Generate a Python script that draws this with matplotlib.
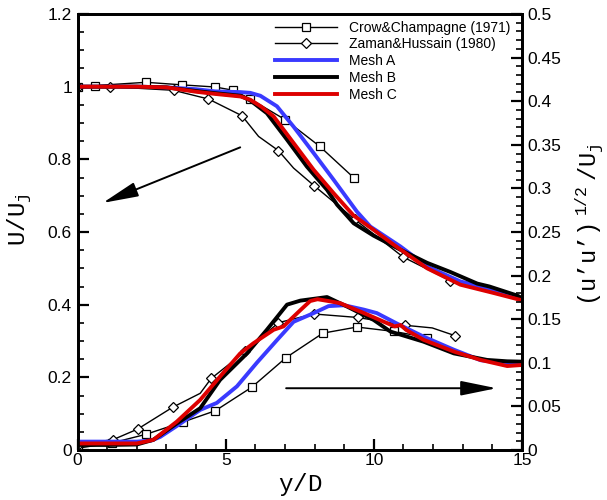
import matplotlib
matplotlib.use("Agg")
import matplotlib.pyplot as plt
from matplotlib.lines import Line2D
from matplotlib.ticker import MultipleLocator, FuncFormatter

# ---------------- data ----------------
# Mean velocity U/Uj (left axis)
crow_u_x = [0, 0.59, 2.31, 3.52, 4.65, 5.26, 5.83, 7.01, 8.17, 9.34]
crow_u_y = [1.0, 1.003, 1.012, 1.005, 0.999, 0.99, 0.966, 0.909, 0.836, 0.748]

zaman_u_x = [0, 1.08, 3.24, 4.42, 5.55, 6.11, 6.78, 7.29, 7.99, 9.35, 10.99, 12.58]
zaman_u_y = [1.0, 1.0, 0.99, 0.966, 0.92, 0.863, 0.824, 0.776, 0.727, 0.635, 0.531, 0.466]
zaman_u_marks = [0, 1, 2, 3, 4, 6, 8, 9, 10, 11]

meshA_u_x = [0, 1, 2, 3, 4, 4.65, 5.5, 5.83, 6.17, 6.73, 7.29, 7.97, 8.64, 9.43, 9.88, 10.9, 11.8, 12.92, 14.05, 14.84, 15]
meshA_u_y = [1.0, 1.0, 1.0, 0.998, 0.993, 0.987, 0.985, 0.983, 0.975, 0.946, 0.89, 0.817, 0.744, 0.656, 0.615, 0.56, 0.505, 0.464, 0.441, 0.422, 0.415]

meshB_u_x = [0, 1, 2, 3, 4, 4.65, 5.5, 5.83, 6.39, 7.07, 7.74, 8.42, 8.76, 9.09, 9.32, 9.99, 10.9, 11.8, 12.58, 13.49, 13.9, 14.84, 15]
meshB_u_y = [1.0, 1.0, 1.0, 0.998, 0.988, 0.982, 0.975, 0.962, 0.927, 0.854, 0.78, 0.716, 0.675, 0.645, 0.624, 0.59, 0.551, 0.515, 0.49, 0.458, 0.45, 0.425, 0.418]

meshC_u_x = [0, 1, 2, 3, 4, 4.65, 5.5, 5.83, 6.2, 6.62, 7.29, 7.97, 8.64, 9.32, 9.99, 10.67, 11.8, 12.92, 14.05, 14.95, 15]
meshC_u_y = [1.0, 1.0, 1.0, 0.998, 0.986, 0.98, 0.973, 0.964, 0.945, 0.918, 0.845, 0.771, 0.707, 0.645, 0.606, 0.565, 0.5, 0.455, 0.432, 0.413, 0.41]

# RMS fluctuation (u'u')^1/2/Uj (right axis)
crow_r_x = [0, 1.15, 2.31, 3.55, 4.65, 5.88, 7.04, 8.28, 9.43, 10.67, 11.8]
crow_r_y = [0.002, 0.008, 0.018, 0.032, 0.045, 0.072, 0.106, 0.134, 0.141, 0.136, 0.129]

zaman_r_x = [0, 1.21, 2.03, 3.21, 4.14, 4.51, 5.66, 6.78, 7.97, 9.45, 11.06, 11.97, 12.75]
zaman_r_y = [0.006, 0.012, 0.024, 0.049, 0.065, 0.082, 0.113, 0.146, 0.156, 0.152, 0.143, 0.140, 0.131]
zaman_r_marks = [0, 1, 2, 3, 5, 6, 7, 8, 9, 10, 12]

meshA_r_x = [0, 1, 2, 2.5, 2.79, 3.46, 4.14, 4.7, 5.38, 6.05, 6.73, 7.29, 7.97, 8.47, 9.0, 9.66, 10.1, 10.78, 11.68, 12.7, 13.6, 14.3, 15]
meshA_r_y = [0.0096, 0.0096, 0.0096, 0.011, 0.015, 0.030, 0.046, 0.054, 0.073, 0.100, 0.126, 0.147, 0.157, 0.165, 0.166, 0.161, 0.157, 0.145, 0.130, 0.115, 0.103, 0.100, 0.0975]

meshB_r_x = [0, 1, 2, 2.56, 3.35, 4.14, 4.81, 5.72, 6.39, 7.07, 7.52, 8.42, 9.09, 9.99, 10.56, 11.68, 12.7, 13.82, 14.5, 15]
meshB_r_y = [0.0058, 0.0058, 0.0063, 0.0117, 0.0304, 0.0479, 0.0804, 0.1108, 0.1379, 0.1667, 0.1713, 0.1754, 0.1646, 0.1492, 0.1358, 0.1242, 0.1108, 0.1033, 0.1017, 0.1013]

meshC_r_x = [0, 1, 2, 2.56, 3.35, 4.14, 4.81, 5.49, 5.94, 6.62, 6.95, 7.2, 7.52, 7.85, 8.1, 8.47, 8.87, 9.66, 10.45, 10.7, 10.9, 11.1, 11.68, 12.7, 13.6, 14.5, 15]
meshC_r_y = [0.0075, 0.0075, 0.0075, 0.0117, 0.0325, 0.0575, 0.0842, 0.1108, 0.1225, 0.1379, 0.1417, 0.15, 0.1604, 0.1708, 0.1729, 0.1708, 0.1683, 0.1571, 0.1454, 0.1417, 0.1433, 0.1375, 0.1263, 0.1129, 0.1033, 0.0963, 0.0975]

legend_labels = ["Crow&Champagne (1971)", "Zaman&Hussain (1980)", "Mesh A", "Mesh B", "Mesh C"]

# arrows (start -> tip), left-axis units
arrow_u = ((5.49, 0.833), (0.85, 0.680))
arrow_r = ((7.04, 0.170), (14.14, 0.170))

# ---------------- style ----------------
plt.rcParams['mathtext.fontset'] = 'custom'
plt.rcParams['mathtext.rm'] = 'Liberation Mono'
plt.rcParams['mathtext.it'] = 'Liberation Mono'
plt.rcParams['mathtext.tt'] = 'Liberation Mono'
plt.rcParams['font.family'] = ['Liberation Sans', 'DejaVu Sans']

BLUE = '#3a3aff'
RED = '#dd0000'
mesh_lw = 2.8

fig = plt.figure(figsize=(6.07, 5.0), dpi=100)
ax = fig.add_axes([0.1277, 0.100, 0.7323, 0.872])
ax2 = ax.twinx()

exp_kw = dict(color='k', lw=1.0, mfc='white', mec='k', mew=0.9)

# upper profiles (left axis)
ax.plot(crow_u_x, crow_u_y, marker='s', ms=6.3, **exp_kw)
ax.plot(zaman_u_x, zaman_u_y, marker='D', ms=5.3, markevery=zaman_u_marks, **exp_kw)
ax.plot(meshA_u_x, meshA_u_y, color=BLUE, lw=mesh_lw)
ax.plot(meshB_u_x, meshB_u_y, color='k', lw=mesh_lw)
ax.plot(meshC_u_x, meshC_u_y, color=RED, lw=mesh_lw)

# lower profiles (right axis)
ax2.plot(crow_r_x, crow_r_y, marker='s', ms=6.3, **exp_kw)
ax2.plot(zaman_r_x, zaman_r_y, marker='D', ms=5.3, markevery=zaman_r_marks, **exp_kw)
ax2.plot(meshA_r_x, meshA_r_y, color=BLUE, lw=mesh_lw)
ax2.plot(meshB_r_x, meshB_r_y, color='k', lw=mesh_lw)
ax2.plot(meshC_r_x, meshC_r_y, color=RED, lw=mesh_lw)

ax.set_xlim(0, 15)
ax.set_ylim(0, 1.2)
ax2.set_ylim(0, 0.5)

# arrows
akw = dict(arrowstyle='-|>,head_length=2.2,head_width=0.45', mutation_scale=10,
           lw=1.4, color='k', shrinkA=0, shrinkB=0)
ax.annotate('', xy=arrow_u[1], xytext=arrow_u[0], arrowprops=akw)
ax.annotate('', xy=arrow_r[1], xytext=arrow_r[0], arrowprops=akw)

# ticks
fmt = FuncFormatter(lambda v, p: '%g' % round(v, 4))
ax.xaxis.set_major_locator(MultipleLocator(5))
ax.xaxis.set_minor_locator(MultipleLocator(1))
ax.yaxis.set_major_locator(MultipleLocator(0.2))
ax.yaxis.set_minor_locator(MultipleLocator(0.05))
ax2.yaxis.set_major_locator(MultipleLocator(0.05))
ax2.yaxis.set_minor_locator(MultipleLocator(0.01))
for a in (ax, ax2):
    a.yaxis.set_major_formatter(fmt)
ax.xaxis.set_major_formatter(fmt)

tick_font = 12.5
ax.tick_params(axis='x', which='both', direction='in', top=False, labelsize=tick_font, pad=2)
ax.tick_params(axis='y', which='both', direction='in', right=False, labelsize=tick_font, pad=4)
ax2.tick_params(axis='y', which='both', direction='in', left=False, labelsize=tick_font, pad=4)
for a in (ax, ax2):
    a.tick_params(which='major', length=8, width=1.6)
    a.tick_params(which='minor', length=4.5, width=1.2)
    for s in a.spines.values():
        s.set_linewidth(2.0)

# labels
ax.set_xlabel(r'$\mathrm{y/D}$', fontsize=17.5)
ax.xaxis.set_label_coords(0.5, -0.048)
ax.set_ylabel(r'$\mathrm{U/U_j}$', fontsize=17.5)
ax.yaxis.set_label_coords(-0.097, 0.528)
ax2.set_ylabel(r'$\mathrm{(u’u’)\ ^{1/2}\ /U_j}$', fontsize=17, rotation=90)
ax2.yaxis.set_label_coords(1.117, 0.516)

# legend
handles = [
    Line2D([], [], marker='s', ms=6.3, **exp_kw),
    Line2D([], [], marker='D', ms=5.3, **exp_kw),
    Line2D([], [], color=BLUE, lw=mesh_lw),
    Line2D([], [], color='k', lw=mesh_lw),
    Line2D([], [], color=RED, lw=mesh_lw),
]
ax2.legend(handles, legend_labels, loc='upper left', bbox_to_anchor=(0.444, 0.985),
           frameon=False, handlelength=4.5, handletextpad=0.85, labelspacing=0.2,
           borderpad=0, borderaxespad=0, numpoints=1, prop={'family': 'Liberation Sans', 'size': 10})

fig.savefig('out.png', dpi=100)
